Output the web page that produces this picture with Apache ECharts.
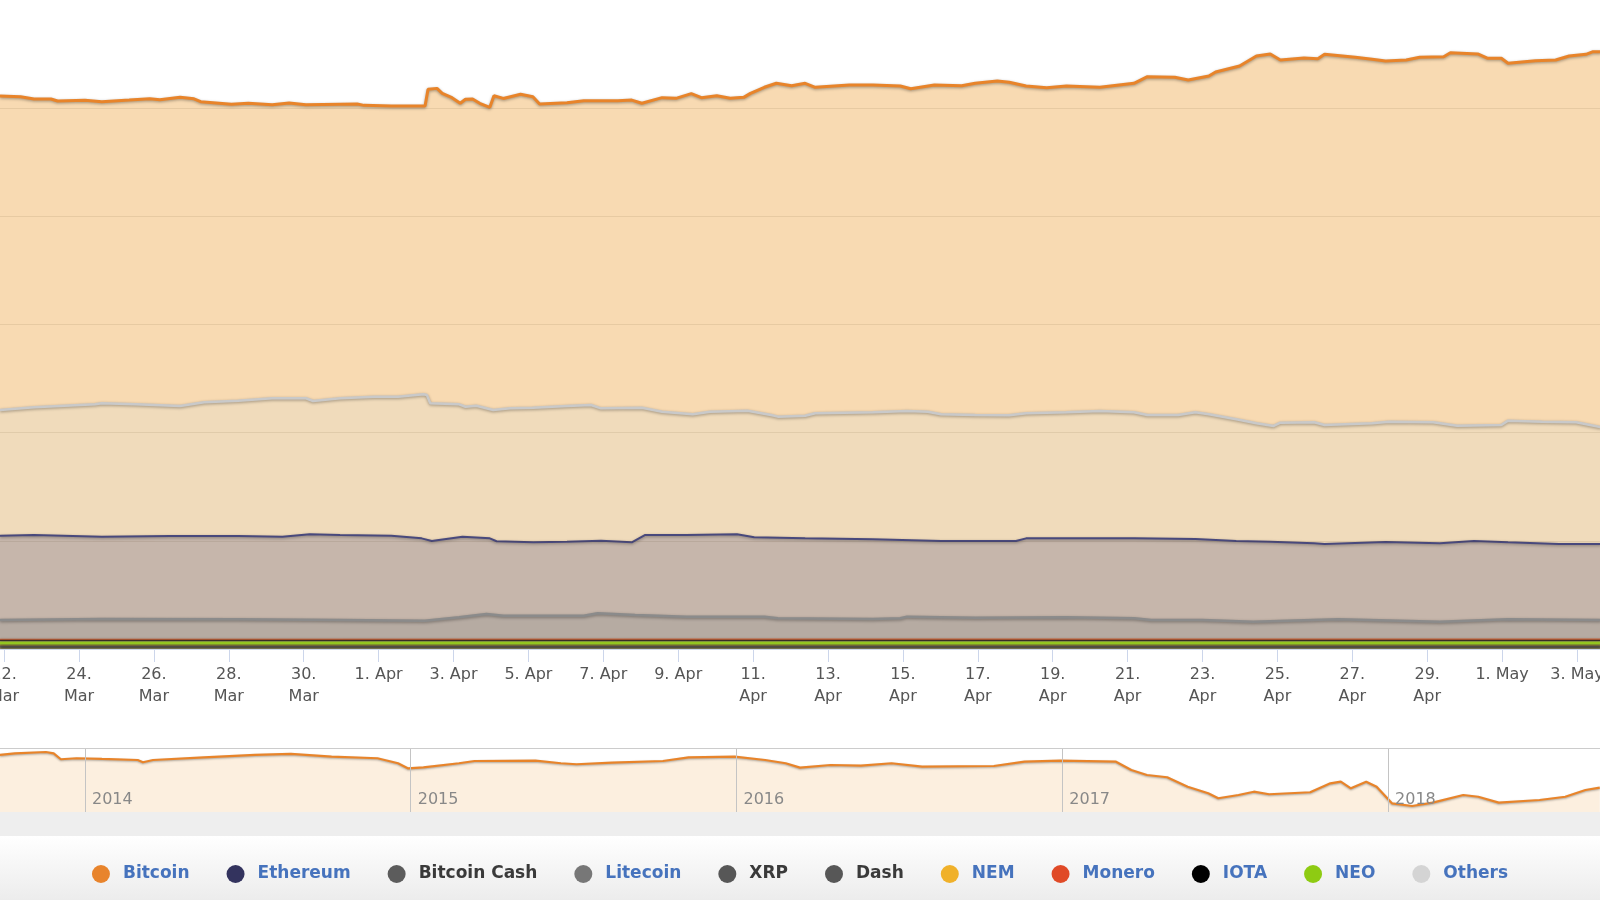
<!DOCTYPE html>
<html><head><meta charset="utf-8">
<script src="https://cdn.jsdelivr.net/npm/echarts@6/dist/echarts.min.js"></script>
<style>html,body{margin:0;padding:0;background:#fff;}#c{width:1600px;height:900px;}</style>
</head><body><div id="c"></div>
<script>
// ---- data (x = days after 22 Mar 2018 00:00 UTC, y = share value) ----
const START = Date.UTC(2018, 2, 22);
const DAY = 86400000;
const MONTHS = ['Jan','Feb','Mar','Apr','May','Jun','Jul','Aug','Sep','Oct','Nov','Dec'];

const legendNames = ['Bitcoin','Ethereum','Bitcoin Cash','Litecoin','XRP','Dash','NEM','Monero','IOTA','NEO','Others'];
const legendMarkerColors = ['#e8842c','#33335e','#5c5c5c','#777777','#575757','#575757','#f0b12a','#e04a27','#000000','#8ecb12','#d4d4d4'];
const legendTextColors = ['#4673bd','#4673bd','#3a3a3a','#4673bd','#3a3a3a','#3a3a3a','#4673bd','#4673bd','#4673bd','#4673bd','#4673bd'];

const gridValues = [10, 20, 30, 40, 50];

const bitcoin = [[-0.11,51.12],[0.44,51.06],[0.80,50.85],[1.25,50.85],[1.43,50.66],[2.16,50.73],[2.61,50.60],[3.34,50.75],[3.89,50.87],[4.16,50.78],[4.70,51.00],[5.07,50.87],[5.25,50.60],[6.07,50.36],[6.52,50.45],[7.16,50.32],[7.61,50.48],[8.06,50.32],[8.97,50.36],[9.43,50.38],[9.61,50.26],[10.34,50.20],[11.24,50.20],[11.32,51.74],[11.56,51.83],[11.70,51.37],[11.96,50.97],[12.18,50.45],[12.32,50.82],[12.51,50.85],[12.70,50.45],[12.97,50.08],[13.08,51.15],[13.33,50.90],[13.79,51.28],[14.12,51.05],[14.30,50.38],[15.03,50.50],[15.48,50.69],[16.39,50.69],[16.76,50.75],[17.03,50.45],[17.57,50.97],[17.94,50.91],[18.35,51.34],[18.62,50.97],[19.03,51.15],[19.39,50.91],[19.75,51.00],[19.93,51.37],[20.30,51.93],[20.62,52.30],[21.03,52.08],[21.39,52.30],[21.66,51.93],[22.57,52.14],[23.20,52.14],[23.93,52.05],[24.21,51.80],[24.84,52.14],[25.57,52.08],[25.93,52.30],[26.52,52.51],[26.84,52.39],[27.29,52.05],[27.84,51.89],[28.37,52.05],[29.26,51.93],[30.17,52.30],[30.53,52.91],[31.26,52.85],[31.62,52.60],[32.17,52.97],[32.35,53.34],[32.99,53.90],[33.44,54.82],[33.81,55.01],[34.08,54.45],[34.71,54.64],[35.08,54.57],[35.26,54.98],[36.08,54.70],[36.53,54.52],[36.89,54.36],[37.44,54.45],[37.80,54.70],[38.44,54.76],[38.62,55.13],[39.35,55.01],[39.62,54.61],[39.98,54.61],[40.16,54.15],[40.89,54.39],[41.43,54.45],[41.79,54.82],[42.24,54.98],[42.43,55.22],[42.65,55.22]];

const others = [[-0.11,22.10],[0.80,22.34],[2.43,22.62],[2.61,22.71],[3.52,22.62],[4.70,22.46],[5.34,22.81],[6.25,22.95],[7.16,23.18],[8.06,23.18],[8.25,22.93],[8.97,23.18],[9.88,23.32],[10.52,23.32],[11.20,23.55],[11.29,23.48],[11.38,22.71],[12.15,22.62],[12.32,22.40],[12.61,22.49],[13.06,22.10],[13.51,22.25],[14.12,22.30],[15.03,22.46],[15.67,22.56],[15.94,22.25],[17.03,22.31],[17.57,21.94],[18.39,21.70],[18.85,21.94],[19.85,22.03],[20.48,21.63],[20.66,21.48],[21.39,21.57],[21.66,21.79],[23.20,21.88],[24.11,22.00],[24.66,21.94],[25.02,21.70],[25.93,21.63],[26.84,21.60],[27.29,21.79],[28.36,21.88],[29.26,22.00],[30.17,21.88],[30.53,21.63],[31.35,21.63],[31.81,21.88],[32.17,21.70],[32.90,21.24],[33.44,20.87],[33.90,20.62],[34.08,20.92],[34.98,20.96],[35.26,20.71],[36.53,20.87],[36.98,21.01],[38.16,20.96],[38.80,20.64],[39.98,20.71],[40.16,21.11],[41.07,21.01],[41.98,20.96],[42.65,20.50]];

const ethereum = [[-0.11,10.47],[0.80,10.54],[2.61,10.38],[4.43,10.45],[6.25,10.45],[7.43,10.38],[8.16,10.60],[8.97,10.54],[10.34,10.47],[11.15,10.23],[11.42,9.98],[11.61,10.08],[12.24,10.38],[12.97,10.23],[13.15,9.96],[14.13,9.86],[15.03,9.92],[15.94,10.01],[16.76,9.86],[17.12,10.54],[18.21,10.54],[19.57,10.60],[20.03,10.33],[21.39,10.23],[23.20,10.14],[25.02,9.98],[27.02,9.98],[27.29,10.23],[28.36,10.23],[30.17,10.23],[31.81,10.17],[32.90,9.98],[33.81,9.92],[34.98,9.77],[35.26,9.71],[36.89,9.89],[38.34,9.77],[39.25,9.98],[40.16,9.86],[41.52,9.71],[42.65,9.71]];

const litecoin = [[-0.11,2.68],[2.61,2.77],[6.25,2.75],[8.97,2.68],[11.24,2.62],[12.15,2.93],[12.88,3.24],[13.33,3.08],[15.48,3.08],[15.85,3.30],[16.85,3.14],[18.21,2.99],[20.30,2.99],[20.66,2.84],[23.20,2.77],[23.93,2.84],[24.11,2.99],[25.93,2.89],[28.36,2.93],[30.17,2.84],[30.63,2.68],[31.99,2.68],[33.35,2.52],[35.62,2.75],[38.34,2.52],[40.16,2.75],[42.65,2.68]];

const bitcoinCash = [[-0.11,0.20],[21.0,0.20],[42.65,0.20]];
const xrp = [[-0.11,0.25],[21.0,0.25],[42.65,0.25]];
const dash = [[-0.11,0.30],[21.0,0.30],[42.65,0.30]];
const nem = [[-0.11,0.35],[21.0,0.35],[42.65,0.35]];
const monero = [[-0.11,0.88],[21.0,0.90],[42.65,0.90]];
const iota = [[-0.11,0.78],[21.0,0.78],[42.65,0.78]];
const neo = [[-0.11,0.55],[21.0,0.56],[42.65,0.56]];

// navigator (x = ordinal year position, y = Bitcoin share)
const navYears = [2013, 2014, 2015, 2016, 2017, 2018, 2019];
const navGridYears = [2014, 2015, 2016, 2017, 2018];
const navBitcoin = [[2013.739,92.4],[2013.785,94.2],[2013.880,95.6],[2013.904,94.2],[2013.926,87.7],[2013.974,88.8],[2014.052,88.0],[2014.162,86.9],[2014.178,84.4],[2014.209,86.9],[2014.365,89.8],[2014.522,92.4],[2014.632,93.5],[2014.757,90.5],[2014.898,88.8],[2014.961,83.3],[2014.991,77.8],[2015.039,78.9],[2015.148,83.3],[2015.196,85.8],[2015.383,86.1],[2015.461,83.3],[2015.509,82.2],[2015.618,83.9],[2015.774,85.8],[2015.853,89.8],[2015.994,90.5],[2016.088,86.9],[2016.151,83.3],[2016.195,78.5],[2016.289,81.4],[2016.382,80.7],[2016.476,83.3],[2016.570,79.6],[2016.790,80.3],[2016.884,85.0],[2016.993,86.1],[2017.165,85.0],[2017.212,76.0],[2017.260,70.5],[2017.322,68.0],[2017.385,57.7],[2017.448,50.5],[2017.479,45.0],[2017.541,48.6],[2017.588,52.2],[2017.635,49.4],[2017.761,51.6],[2017.823,61.4],[2017.855,63.2],[2017.886,55.9],[2017.933,63.2],[2017.965,57.7],[2018.012,39.5],[2018.074,36.6],[2018.137,40.2],[2018.231,48.6],[2018.277,46.7],[2018.340,40.2],[2018.465,43.1],[2018.544,46.7],[2018.606,54.1],[2018.650,56.6]];

// ---- build ----
const toTime = arr => arr.map(p => [START + p[0] * DAY, p[1]]);
const shadow = {shadowColor:'rgba(0,0,0,0.35)', shadowBlur:3, shadowOffsetY:1};

function area(name, data, lineColor, width, fill, markerColor) {
  return {
    name, type:'line', xAxisIndex:0, yAxisIndex:0,
    data: toTime(data), showSymbol:false, symbol:'none', smooth:false,
    animation:false, silent:true, z:2,
    itemStyle:{color: markerColor},
    lineStyle:Object.assign({color: lineColor, width: width}, shadow),
    areaStyle:{color: fill, opacity:1},
    emphasis:{disabled:true}
  };
}

const series = [
  area('Bitcoin', bitcoin, '#e8842a', 3, '#f8dab2', legendMarkerColors[0]),
  area('Others', others, '#c9c9c9', 2.5, '#f0dbbb', legendMarkerColors[10]),
  area('Ethereum', ethereum, '#49497c', 2, '#c6b6ab', legendMarkerColors[1]),
  area('Litecoin', litecoin, '#8b8b8b', 2.5, '#b6aba2', legendMarkerColors[3]),
  area('Bitcoin Cash', bitcoinCash, '#6d6a60', 1.5, '#a9a08e', legendMarkerColors[2]),
  area('XRP', xrp, '#6d6a60', 1.5, '#a9a08e', legendMarkerColors[4]),
  area('Dash', dash, '#6d6a60', 1.5, '#a9a08e', legendMarkerColors[5]),
  area('NEM', nem, '#8a7a40', 1.5, '#a9a08e', legendMarkerColors[6]),
  area('Monero', monero, '#d2663a', 1.5, '#b3a498', legendMarkerColors[7]),
  area('IOTA', iota, '#3b2f28', 1.5, '#b0a69a', legendMarkerColors[8]),
  area('NEO', neo, '#93c520', 3, '#a5a070', legendMarkerColors[9]),
  {
    name:'mainGrid', type:'line', xAxisIndex:0, yAxisIndex:0, data:[], z:5, silent:true, animation:false,
    markLine:{silent:true, animation:false, symbol:['none','none'], label:{show:false}, z:5,
      lineStyle:{color:'rgba(60,30,0,0.085)', type:'solid', width:1},
      emphasis:{disabled:true},
      data: gridValues.map(v => ({yAxis:v}))}
  },
  {
    name:'navBitcoin', type:'line', xAxisIndex:1, yAxisIndex:1,
    data: navBitcoin, showSymbol:false, symbol:'none', animation:false, silent:true, z:2,
    itemStyle:{color:'#e8842a'},
    lineStyle:{color:'#e8842a', width:2.2, shadowColor:'rgba(0,0,0,0.3)', shadowBlur:2, shadowOffsetY:1},
    areaStyle:{color:'#fcefdf', opacity:1},
    emphasis:{disabled:true}
  },
  {
    name:'navGrid', type:'line', xAxisIndex:1, yAxisIndex:1, data:[], z:5, silent:true, animation:false,
    markLine:{silent:true, animation:false, symbol:['none','none'], label:{show:false}, z:5,
      lineStyle:{color:'#c4c4c4', type:'solid', width:1},
      emphasis:{disabled:true},
      data: navGridYears.map(v => ({xAxis:v}))}
  }
];

function dateLabel(v) {
  const d = new Date(v);
  const day = d.getUTCDate();
  const mon = MONTHS[d.getUTCMonth()];
  return day >= 10 ? day + '.\n' + mon : day + '. ' + mon;
}

const chart = echarts.init(document.getElementById('c'), null, {renderer:'canvas'});
chart.setOption({
  animation:false,
  backgroundColor:'#ffffff',
  graphic:[
    {type:'rect', z:0, silent:true, shape:{x:0, y:812, width:1600, height:24}, style:{fill:'#eeeeee'}},
    {type:'rect', z:0, silent:true, shape:{x:0, y:836, width:1600, height:64},
      style:{fill:new echarts.graphic.LinearGradient(0,0,0,1,[{offset:0,color:'#ffffff'},{offset:1,color:'#ececec'}])}},
    {type:'line', z:10, silent:true, shape:{x1:0, y1:748.5, x2:1600, y2:748.5}, style:{stroke:'#cccccc', lineWidth:1}}
  ],
  grid:[
    {left:-70.8, right:-51.9, top:0, bottom:251, containLabel:false, outerBoundsMode:'none'},
    {left:-240.8, right:-113.8, top:748, bottom:88, containLabel:false, outerBoundsMode:'none'}
  ],
  xAxis:[
    {
      type:'value', gridIndex:0, z:3,
      min: START - 2*DAY, max: START + 44*DAY, interval: 2*DAY,
      axisLine:{show:true, lineStyle:{color:'#ccd6eb', width:1}},
      axisTick:{show:true, length:13, lineStyle:{color:'#ccd6eb', width:1}},
      splitLine:{show:false},
      axisLabel:{color:'#555555', fontSize:16, fontFamily:'DejaVu Sans', lineHeight:22, margin:15,
        showMinLabel:true, showMaxLabel:true, formatter: dateLabel}
    },
    {
      type:'value', gridIndex:1, z:3,
      min: navYears[0], max: navYears[navYears.length-1], interval:1,
      axisLine:{show:false}, axisTick:{show:false},
      splitLine:{show:false},
      axisLabel:{inside:true, align:'left', color:'#888888', fontSize:16, fontFamily:'DejaVu Sans',
        margin:4, padding:[0,0,0,7], formatter: v => String(v)}
    }
  ],
  yAxis:[
    {
      type:'value', gridIndex:0, min:0, max:60, interval:10,
      axisLine:{show:false}, axisTick:{show:false}, axisLabel:{show:false},
      splitLine:{show:false}
    },
    {
      type:'value', gridIndex:1, min:30, max:100, show:false,
      axisLine:{show:false}, axisTick:{show:false}, axisLabel:{show:false}, splitLine:{show:false}
    }
  ],
  legend:{
    top:860, left:'center', orient:'horizontal',
    itemWidth:34, itemHeight:18, itemGap:37, icon:'circle',
    selectedMode:false,
    textStyle:{fontSize:17, fontWeight:'bold', fontFamily:'DejaVu Sans'},
    data: legendNames.map((n,i) => ({name:n, icon:'circle',
      itemStyle:{color:legendMarkerColors[i], borderWidth:0},
      textStyle:{color:legendTextColors[i], fontSize:17, fontWeight:'bold', fontFamily:'DejaVu Sans'}}))
  },
  series: series
});
</script>
</body></html>
